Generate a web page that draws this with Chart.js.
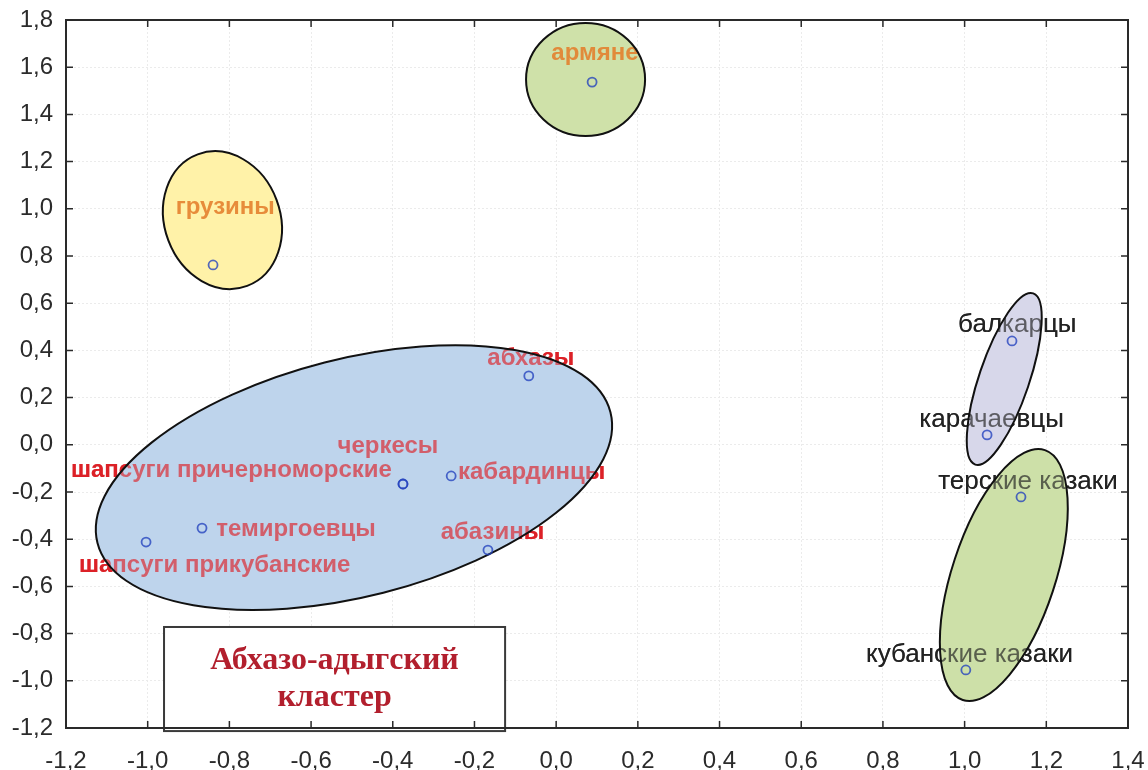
<!DOCTYPE html>
<html lang="ru">
<head>
    <meta charset="UTF-8">
    <title>Кластеры</title>
    <script src="https://cdn.jsdelivr.net/npm/chart.js"></script>
    <style>
        html, body {
            margin: 0;
            padding: 0;
            background: #ffffff;
        }
        .chart-box {
            width: 1148px;
            height: 770px;
        }
    </style>
</head>
<body>
    <div class="chart-box">
        <canvas id="clusterChart" width="1148" height="770"></canvas>
    </div>

    <script>
        // точки (координаты по осям)
        const pointNames = ['армяне', 'грузины', 'абхазы', 'черкесы', 'шапсуги причерноморские', 'кабардинцы',
            'темиргоевцы', 'шапсуги прикубанские', 'абазины', 'балкарцы', 'карачаевцы', 'терские казаки', 'кубанские казаки'];
        const pointX = [0.088, -0.84, -0.067, -0.375, -0.375, -0.257, -0.867, -1.004, -0.167, 1.116, 1.055, 1.138, 1.003];
        const pointY = [1.537, 0.762, 0.292, -0.166, -0.166, -0.132, -0.353, -0.412, -0.446, 0.44, 0.042, -0.221, -0.954];

        // подписи (центр текста в координатах осей)
        const labelText = ['армяне', 'грузины', 'абхазы', 'черкесы', 'шапсуги причерноморские', 'кабардинцы',
            'темиргоевцы', 'шапсуги прикубанские', 'абазины', 'балкарцы', 'карачаевцы', 'терские казаки', 'кубанские казаки'];
        const labelX = [0.095, -0.81, -0.062, -0.412, -0.795, -0.06, -0.637, -0.836, -0.156, 1.129, 1.066, 1.155, 1.012];
        const labelY = [1.66, 1.008, 0.368, -0.005, -0.107, -0.115, -0.357, -0.509, -0.369, 0.508, 0.105, -0.158, -0.891];
        const labelGroup = ['outer', 'outer', 'cluster', 'cluster', 'cluster', 'cluster',
            'cluster', 'cluster', 'cluster', 'right', 'right', 'right', 'right'];

        // эллипсы: центр, полуоси (в единицах оси X), поворот в градусах
        const ellipseX = [-0.495, -0.817, 0.072, 1.097, 1.096];
        const ellipseY = [-0.139, 0.952, 1.548, 0.279, -0.552];
        const ellipseA = [0.648, 0.172, 0.1457, 0.2213, 0.322];
        const ellipseB = [0.291, 0.1415, 0.1383, 0.0614, 0.1263];
        const ellipseAngle = [-14.3, 69.4, 0, -71.3, -71.8];

        // рамка с подписью кластера
        const boxX = [-0.96, -0.125];
        const boxY = [-0.772, -1.213];
        const boxLines = ['Абхазо-адыгский', 'кластер'];
        const boxLineY = [-0.916, -1.071];

        const xTicksMin = -1.2, xTicksMax = 1.4;
        const yTicksMin = -1.2, yTicksMax = 1.8;

        const ellipseFills = ['#bed4ec', '#fff2a8', '#cfe1a9', '#d7d7ea', '#cde0a8'];
        const labelColors = { cluster: '#dc2128', outer: '#e47d2a', right: '#222222' };
        const labelAlpha = { cluster: 0.66, outer: 0.88, right: 0.68 };
        const labelFonts = {
            cluster: 'bold 24px "Liberation Sans", Arial, sans-serif',
            outer: 'bold 24px "Liberation Sans", Arial, sans-serif',
            right: '26px "Liberation Sans", Arial, sans-serif'
        };

        function fmt(v) {
            return Number(v).toFixed(1).replace('.', ',');
        }

        function drawLabels(ctx, xs, ys, muted) {
            ctx.textAlign = 'center';
            ctx.textBaseline = 'middle';
            labelText.forEach((t, i) => {
                const g = labelGroup[i];
                ctx.globalAlpha = muted ? labelAlpha[g] : 1;
                ctx.font = labelFonts[g];
                ctx.fillStyle = labelColors[g];
                ctx.fillText(t, xs.getPixelForValue(labelX[i]), ys.getPixelForValue(labelY[i]));
            });
            ctx.globalAlpha = 1;
        }

        function ellipsePath(ctx, xs, ys, i) {
            const k = Math.abs(xs.getPixelForValue(1) - xs.getPixelForValue(0));
            ctx.beginPath();
            ctx.ellipse(xs.getPixelForValue(ellipseX[i]), ys.getPixelForValue(ellipseY[i]),
                ellipseA[i] * k, ellipseB[i] * k, ellipseAngle[i] * Math.PI / 180, 0, Math.PI * 2);
        }

        const overlayPlugin = {
            id: 'overlay',
            beforeDatasetsDraw(chart) {
                const ctx = chart.ctx;
                const xs = chart.scales.x, ys = chart.scales.y;
                ctx.save();
                // текст под эллипсами
                drawLabels(ctx, xs, ys, false);
                ellipseX.forEach((_, i) => {
                    ellipsePath(ctx, xs, ys, i);
                    ctx.fillStyle = ellipseFills[i];
                    ctx.fill();
                });
                // текст, просвечивающий сквозь заливку
                drawLabels(ctx, xs, ys, true);
                ellipseX.forEach((_, i) => {
                    ellipsePath(ctx, xs, ys, i);
                    ctx.lineWidth = 2;
                    ctx.strokeStyle = '#111111';
                    ctx.stroke();
                });

                // рамка кластера
                const bx1 = xs.getPixelForValue(boxX[0]), bx2 = xs.getPixelForValue(boxX[1]);
                const by1 = ys.getPixelForValue(boxY[0]), by2 = ys.getPixelForValue(boxY[1]);
                ctx.fillStyle = '#ffffff';
                ctx.fillRect(bx1, by1, bx2 - bx1, by2 - by1);
                ctx.lineWidth = 2;
                ctx.strokeStyle = '#3a3a3a';
                ctx.strokeRect(bx1, by1, bx2 - bx1, by2 - by1);
                ctx.font = 'bold 32px "Liberation Serif", "Times New Roman", serif';
                ctx.fillStyle = '#b21f2d';
                ctx.textAlign = 'center';
                ctx.textBaseline = 'middle';
                boxLines.forEach((t, i) => {
                    ctx.fillText(t, (bx1 + bx2) / 2, ys.getPixelForValue(boxLineY[i]));
                });
                ctx.restore();
            },
            afterDraw(chart) {
                const ctx = chart.ctx;
                const a = chart.chartArea;
                const xs = chart.scales.x, ys = chart.scales.y;
                ctx.save();
                ctx.strokeStyle = '#2a2a2a';
                ctx.lineWidth = 2;
                ctx.strokeRect(a.left, a.top, a.right - a.left, a.bottom - a.top);
                ctx.lineWidth = 1.5;
                ctx.beginPath();
                xs.ticks.forEach((t, i) => {
                    const px = xs.getPixelForTick(i);
                    ctx.moveTo(px, a.bottom);
                    ctx.lineTo(px, a.bottom - 7);
                    ctx.moveTo(px, a.top);
                    ctx.lineTo(px, a.top + 7);
                });
                ys.ticks.forEach((t, i) => {
                    const py = ys.getPixelForTick(i);
                    ctx.moveTo(a.left, py);
                    ctx.lineTo(a.left + 7, py);
                    ctx.moveTo(a.right, py);
                    ctx.lineTo(a.right - 7, py);
                });
                ctx.stroke();
                ctx.restore();
            }
        };

        // фиксированные размеры осей, без запаса под крайние подписи
        function fixX(s) {
            s.height = 42;
            s.paddingLeft = 0; s.paddingRight = 0;
        }
        function fixY(s) {
            s.width = 66;
            s.paddingTop = 0; s.paddingBottom = 0;
        }

        const ctx = document.getElementById('clusterChart').getContext('2d');
        const tickFont = { family: '"Liberation Sans", Arial, sans-serif', size: 24 };

        new Chart(ctx, {
            type: 'scatter',
            data: {
                datasets: [{
                    label: 'группы',
                    data: pointX.map((x, i) => ({ x: x, y: pointY[i], name: pointNames[i] })),
                    pointStyle: 'circle',
                    pointRadius: 4.5,
                    pointBorderWidth: 1.8,
                    borderColor: 'rgba(35, 65, 190, 0.78)',
                    backgroundColor: 'rgba(0, 0, 0, 0)',
                    clip: false
                }]
            },
            options: {
                responsive: false,
                animation: false,
                devicePixelRatio: 1,
                layout: {
                    padding: { top: 20, right: 20, left: 0, bottom: 0 }
                },
                plugins: {
                    legend: { display: false },
                    tooltip: { enabled: false }
                },
                scales: {
                    x: {
                        type: 'linear',
                        min: xTicksMin,
                        max: xTicksMax,
                        afterFit: fixX,
                        ticks: {
                            stepSize: 0.2,
                            font: tickFont,
                            color: '#2b2b2b',
                            padding: 19,
                            maxRotation: 0,
                            callback: (v) => fmt(v)
                        },
                        grid: { color: '#ebebeb', drawTicks: false },
                        border: { display: false, dash: [2, 2] }
                    },
                    y: {
                        type: 'linear',
                        min: yTicksMin,
                        max: yTicksMax,
                        afterFit: fixY,
                        ticks: {
                            stepSize: 0.2,
                            font: tickFont,
                            color: '#2b2b2b',
                            padding: 13,
                            callback: (v) => fmt(v)
                        },
                        grid: { color: '#ebebeb', drawTicks: false },
                        border: { display: false, dash: [2, 2] }
                    }
                }
            },
            plugins: [overlayPlugin]
        });
    </script>
</body>
</html>
